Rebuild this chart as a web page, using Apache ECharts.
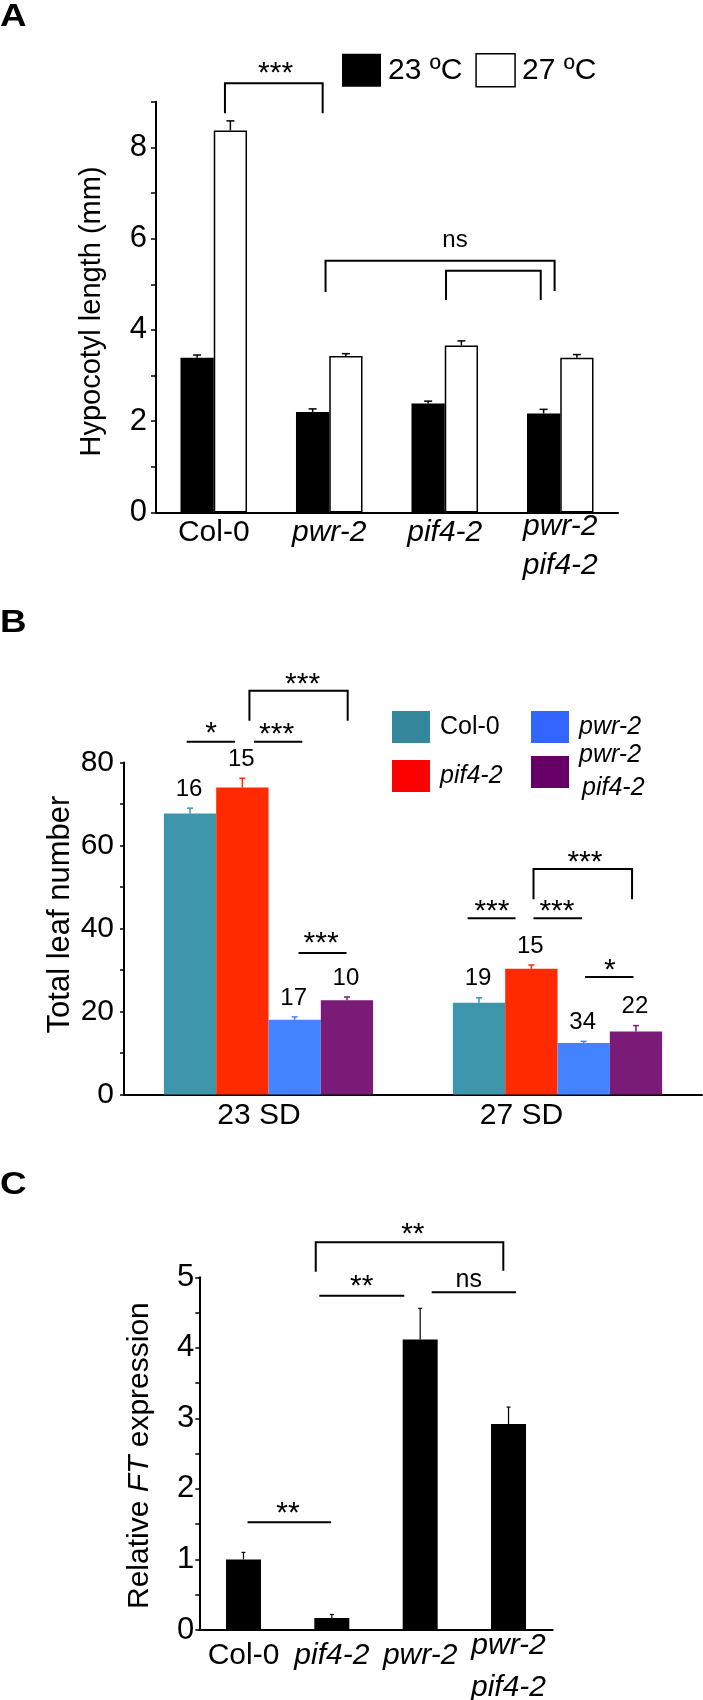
<!DOCTYPE html>
<html>
<head>
<meta charset="utf-8">
<script src="https://cdn.jsdelivr.net/npm/echarts@6/dist/echarts.min.js"></script>
<style>
html,body{margin:0;padding:0;background:#fff;}
#main{width:703px;height:1700px;}
</style>
</head>
<body>
<div id="main"></div>
<script>
// ---------- Panel A data ----------
const catA = ['Col-0', 'pwr-2', 'pif4-2', 'pwr-2\npif4-2'];
const a23 = [3.39, 2.20, 2.39, 2.17];
const a23Err = [0.06, 0.07, 0.05, 0.09];
const a27 = [8.37, 3.43, 3.66, 3.39];
const a27Err = [0.21, 0.05, 0.10, 0.07];
// significance: [x1, x2, yTop, yLeftEnd, yRightEnd, label, labelX, labelY]
const sigA = [
  [0.097, 0.943, 9.404, 8.747, 8.747, '***', 0.535, 9.76],
  [0.968, 2.951, 5.517, 4.831, 4.853, 'ns', 2.089, 5.905],
  [2.011, 2.831, 5.298, 4.656, 4.656, '', 0, 0]
];

// ---------- Panel B data ----------
const catB = ['23 SD', '27 SD'];
const bCol = [67.7, 22.1];
const bColErr = [1.3, 1.2];
const bPif = [74.0, 30.3];
const bPifErr = [2.2, 0.9];
const bPwr = [18.0, 12.4];
const bPwrErr = [0.7, 0.4];
const bDbl = [22.7, 15.2];
const bDblErr = [0.8, 1.4];
const nCol = [16, 19];
const nPif = [15, 15];
const nPwr = [17, 34];
const nDbl = [10, 22];
const sigB = [
  [-0.283, -0.116, 85.01, null, null, '*', -0.199, 88.63],
  [-0.050, 0.117, 85.01, null, null, '***', 0.028, 88.24],
  [-0.066, 0.274, 97.3, 90.07, 90.07, '***', 0.118, 100.29],
  [0.104, 0.270, 34.12, null, null, '***', 0.182, 38.0],
  [0.689, 0.855, 42.48, null, null, '***', 0.773, 45.76],
  [0.917, 1.085, 42.48, null, null, '***', 0.998, 45.76],
  [0.917, 1.258, 54.36, 47.04, 47.04, '***', 1.095, 57.54],
  [1.095, 1.263, 28.31, null, null, '*', 1.181, 31.54]
];

// ---------- Panel C data ----------
const catC = ['Col-0', 'pif4-2', 'pwr-2', 'pwr-2\npif4-2'];
const cVal = [1.00, 0.17, 4.12, 2.92];
const cErr = [0.10, 0.05, 0.44, 0.24];
const sigC = [
  [0.046, 0.991, 1.528, null, null, '**', 0.504, 1.749],
  [0.858, 1.820, 4.739, null, null, '**', 1.338, 4.957],
  [2.130, 3.085, 4.787, null, null, 'ns', 2.549, 4.933],
  [0.818, 2.941, 5.496, 5.079, 5.094, '**', 1.917, 5.699]
];

const FONT = 'Liberation Sans, Arial, Helvetica, sans-serif';
const ital = new Set(['pwr-2', 'pif4-2']);

function labelFmt(v) {
  const parts = v.split('\n');
  if (parts.length === 1) return '{' + (ital.has(v) ? 'si' : 'sn') + '|' + v + '}';
  return parts.map((s, k) => '{' + (k === 0 ? 't1' : 't2') + '|' + s + '}').join('\n');
}

function sigSeries(xi, yi, sig, opt) {
  return {
    type: 'custom', xAxisIndex: xi, yAxisIndex: yi, silent: true, z: 20, clip: false,
    data: sig.map(() => [0, 0]),
    renderItem: function (params, api) {
      const s = sig[params.dataIndex];
      const c0 = api.coord([0, 0]);
      const bw = api.size([1, 0])[0];
      const X = v => c0[0] + v * bw;
      const Y = v => api.coord([0, v])[1];
      const ch = [];
      const pts = [];
      if (s[3] != null) pts.push([X(s[0]), Y(s[3])]);
      pts.push([X(s[0]), Y(s[2])]);
      pts.push([X(s[1]), Y(s[2])]);
      if (s[4] != null) pts.push([X(s[1]), Y(s[4])]);
      ch.push({ type: 'polyline', shape: { points: pts }, style: { stroke: '#000', fill: null, lineWidth: opt.lw } });
      if (s[5]) {
        const isStar = s[5].indexOf('*') >= 0;
        const fs = isStar ? opt.starSize : opt.nsSize;
        const dy = isStar ? 0.23 * fs : -0.09 * fs;
        ch.push({
          type: 'text',
          style: { text: s[5], x: X(s[6]), y: Y(s[7]) + dy, align: 'center', verticalAlign: 'middle',
                   fontSize: fs, fontFamily: FONT, fill: '#000' }
        });
      }
      return { type: 'group', children: ch };
    }
  };
}

function errSeries(xi, yi, vals, errs, k, nBars, barFrac, color, lw, cap, nLabels) {
  return {
    type: 'custom', xAxisIndex: xi, yAxisIndex: yi, silent: true, z: 15, clip: false,
    data: vals.map((v, i) => [i, v, errs[i]]),
    encode: { x: 0, y: 1 },
    renderItem: function (params, api) {
      const i = api.value(0), v = api.value(1), e = api.value(2);
      const band = api.size([1, 0])[0];
      const bw = band * barFrac;
      const p = api.coord([i, v]);
      const t = api.coord([i, v + e]);
      const x = p[0] - nBars * bw / 2 + bw * (k + 0.5);
      const ch = [
        { type: 'line', shape: { x1: x, y1: p[1], x2: x, y2: t[1] }, style: { stroke: color, lineWidth: lw } },
        { type: 'line', shape: { x1: x - cap, y1: t[1], x2: x + cap, y2: t[1] }, style: { stroke: color, lineWidth: lw } }
      ];
      if (nLabels) {
        ch.push({ type: 'text', style: { text: String(nLabels[params.dataIndex]), x: x - 1, y: t[1] - 19,
          align: 'center', verticalAlign: 'middle', fontSize: 24, fontFamily: FONT, fill: '#000' } });
      }
      return { type: 'group', children: ch };
    }
  };
}

const axisLineStyle = { color: '#000', width: 2 };
const chart = echarts.init(document.getElementById('main'), null, { renderer: 'canvas' });
const teal = '#3D96AB', red = '#FF2A00', blue = '#4383FF', purple = '#7A1B77';

function catLabel(fs, margin, lhS, lh1, lh2) {
  const st = (italic, lh) => italic
    ? { fontSize: fs, fontFamily: FONT, fontStyle: 'italic', color: '#000', lineHeight: lh }
    : { fontSize: fs, fontFamily: FONT, color: '#000', lineHeight: lh };
  return { interval: 0, margin: margin, color: '#000', fontSize: fs, fontFamily: FONT, formatter: labelFmt,
    rich: { sn: st(false, lhS), si: st(true, lhS), t1: st(true, lh1), t2: st(true, lh2) } };
}

const option = {
  backgroundColor: '#fff',
  animation: false,
  textStyle: { fontFamily: FONT },
  grid: [
    { left: 156, top: 101.7, width: 462, height: 410.8, outerBoundsMode: 'none', containLabel: false },
    { left: 124, top: 762.5, width: 578, height: 332, outerBoundsMode: 'none', containLabel: false },
    { left: 199.3, top: 1277.3, width: 353.4, height: 352.7, outerBoundsMode: 'none', containLabel: false }
  ],
  xAxis: [
    { type: 'category', gridIndex: 0, data: catA,
      axisLine: { lineStyle: axisLineStyle }, axisTick: { length: 5, lineStyle: { color: '#000', width: 1.5 } },
      axisLabel: catLabel(30, 5, 31, 19, 59) },
    { type: 'category', gridIndex: 1, data: catB,
      axisLine: { lineStyle: axisLineStyle }, axisTick: { length: 5, lineStyle: { color: '#000', width: 1.5 } },
      axisLabel: { interval: 0, margin: 6, color: '#000', fontSize: 30, fontFamily: FONT,
        formatter: v => v === '23 SD' ? '{a|' + v + '}' : '{b|' + v + '}',
        rich: { a: { fontSize: 30, fontFamily: FONT, color: '#000', padding: [0, 19, 0, 0] },
                b: { fontSize: 30, fontFamily: FONT, color: '#000', padding: [0, 72, 0, 0] } } } },
    { type: 'category', gridIndex: 2, data: catC,
      axisLine: { lineStyle: axisLineStyle }, axisTick: { length: 5, lineStyle: { color: '#000', width: 1.5 } },
      axisLabel: catLabel(30, 7, 38, 18, 66) }
  ],
  yAxis: [
    { type: 'value', gridIndex: 0, min: 0, max: 9, interval: 1, splitLine: { show: false },
      axisLine: { show: true, lineStyle: axisLineStyle },
      axisTick: { show: true, length: 5, lineStyle: { color: '#000', width: 1.5 } },
      axisLabel: { margin: 9, color: '#000', fontSize: 31, fontFamily: FONT, formatter: v => (v % 2 === 0 ? String(v) : '') } },
    { type: 'value', gridIndex: 1, min: 0, max: 80, interval: 10, splitLine: { show: false },
      axisLine: { show: true, lineStyle: axisLineStyle },
      axisTick: { show: true, length: 4, lineStyle: { color: '#000', width: 1.5 } },
      axisLabel: { margin: 10, color: '#000', fontSize: 30, fontFamily: FONT, formatter: v => (v % 20 === 0 ? String(v) : '') } },
    { type: 'value', gridIndex: 2, min: 0, max: 5, interval: 0.5, splitLine: { show: false },
      axisLine: { show: true, lineStyle: axisLineStyle },
      axisTick: { show: true, length: 4, lineStyle: { color: '#000', width: 1.5 } },
      axisLabel: { margin: 5, color: '#000', fontSize: 31, fontFamily: FONT, formatter: v => (Math.abs(v - Math.round(v)) < 1e-9 ? String(Math.round(v)) : '') } }
  ],
  legend: [
    { left: 337, top: 48, itemWidth: 39, itemHeight: 33, itemGap: 13, icon: 'rect', selectedMode: false,
      data: [{ name: '23 ºC', itemStyle: { color: '#000' } },
             { name: '27 ºC', itemStyle: { color: '#fff', borderColor: '#000', borderWidth: 1.5 } }],
      textStyle: { fontSize: 30, color: '#000', fontFamily: FONT, padding: [0, 0, 0, 2] } },
    { orient: 'vertical', left: 387, top: 706, itemWidth: 38, itemHeight: 32, itemGap: 17, icon: 'rect', selectedMode: false,
      data: [{ name: 'Col-0', itemStyle: { color: '#35879C' } }, { name: 'pif4-2', itemStyle: { color: '#FF0000' } }],
      formatter: n => n === 'Col-0' ? '{n|Col-0}' : '{i|' + n + '}',
      textStyle: { color: '#000', fontFamily: FONT, fontSize: 25, padding: [0, 0, 0, 5],
        rich: { n: { fontSize: 25, fontFamily: FONT, color: '#000' }, i: { fontSize: 25, fontFamily: FONT, fontStyle: 'italic', color: '#000' } } } },
    { orient: 'vertical', left: 526, top: 706, itemWidth: 38, itemHeight: 32, itemGap: 0, icon: 'rect', selectedMode: false,
      data: [{ name: 'pwr-2', itemStyle: { color: '#3366FF' } }, { name: 'pwr-2 pif4-2', itemStyle: { color: '#660066' } }],
      formatter: n => n === 'pwr-2' ? '{i|pwr-2}' : '{i|pwr-2}\n{j|pif4-2}',
      textStyle: { color: '#000', fontFamily: FONT, fontSize: 25, padding: [0, 0, 0, 5],
        rich: { i: { fontSize: 25, fontFamily: FONT, fontStyle: 'italic', color: '#000', lineHeight: 33 },
                j: { fontSize: 25, fontFamily: FONT, fontStyle: 'italic', color: '#000', lineHeight: 33, padding: [0, 0, 0, 3] } } } }
  ],
  graphic: [
    { type: 'text', left: 0, top: 1, scaleX: 1.15, style: { text: 'A', fontSize: 32, fontWeight: 'bold', fontFamily: FONT, fill: '#000' } },
    { type: 'text', left: 0, top: 607, scaleX: 1.15, style: { text: 'B', fontSize: 32, fontWeight: 'bold', fontFamily: FONT, fill: '#000' } },
    { type: 'text', left: 0, top: 1169, scaleX: 1.15, style: { text: 'C', fontSize: 32, fontWeight: 'bold', fontFamily: FONT, fill: '#000' } },
    { type: 'text', x: 92, y: 311.5, rotation: Math.PI / 2,
      style: { text: 'Hypocotyl length (mm)', align: 'center', verticalAlign: 'middle', fontSize: 29, fontFamily: FONT, fill: '#000' } },
    { type: 'text', x: 60, y: 914.5, rotation: Math.PI / 2,
      style: { text: 'Total leaf number', align: 'center', verticalAlign: 'middle', fontSize: 31, fontFamily: FONT, fill: '#000' } },
    { type: 'text', x: 140, y: 1455.6, rotation: Math.PI / 2,
      style: { text: '{n|Relative }{i|FT}{n| expression}', align: 'center', verticalAlign: 'middle', fontFamily: FONT, fill: '#000',
        rich: { n: { fontSize: 30, fontFamily: FONT, fill: '#000' }, i: { fontSize: 30, fontFamily: FONT, fontStyle: 'italic', fill: '#000' } } } }
  ],
  series: [
    { name: '23 ºC', type: 'bar', xAxisIndex: 0, yAxisIndex: 0, data: a23, barWidth: '28.8%', barGap: '0%',
      itemStyle: { color: '#000' } },
    { name: '27 ºC', type: 'bar', xAxisIndex: 0, yAxisIndex: 0, data: a27, barWidth: '28.8%', barGap: '0%',
      itemStyle: { color: '#fff', borderColor: '#000', borderWidth: 1.5 } },
    errSeries(0, 0, a23, a23Err, 0, 2, 0.288, '#000', 1.5, 4, null),
    errSeries(0, 0, a27, a27Err, 1, 2, 0.288, '#000', 1.5, 4, null),
    sigSeries(0, 0, sigA, { lw: 2, starSize: 30, nsSize: 24 }),
    { name: 'Col-0', type: 'bar', xAxisIndex: 1, yAxisIndex: 1, data: bCol, barWidth: '18.1%', barGap: '0%', itemStyle: { color: teal } },
    { name: 'pif4-2', type: 'bar', xAxisIndex: 1, yAxisIndex: 1, data: bPif, barWidth: '18.1%', barGap: '0%', itemStyle: { color: red } },
    { name: 'pwr-2', type: 'bar', xAxisIndex: 1, yAxisIndex: 1, data: bPwr, barWidth: '18.1%', barGap: '0%', itemStyle: { color: blue } },
    { name: 'pwr-2 pif4-2', type: 'bar', xAxisIndex: 1, yAxisIndex: 1, data: bDbl, barWidth: '18.1%', barGap: '0%', itemStyle: { color: purple } },
    errSeries(1, 1, bCol, bColErr, 0, 4, 0.181, teal, 1.5, 3, nCol),
    errSeries(1, 1, bPif, bPifErr, 1, 4, 0.181, red, 1.5, 3, nPif),
    errSeries(1, 1, bPwr, bPwrErr, 2, 4, 0.181, blue, 1.5, 3, nPwr),
    errSeries(1, 1, bDbl, bDblErr, 3, 4, 0.181, purple, 1.5, 3, nDbl),
    sigSeries(1, 1, sigB, { lw: 2, starSize: 30, nsSize: 24 }),
    { name: 'FT', type: 'bar', xAxisIndex: 2, yAxisIndex: 2, data: cVal, barWidth: '39.6%', itemStyle: { color: '#000' } },
    errSeries(2, 2, cVal, cErr, 0, 1, 0.396, '#000', 1.2, 2, null),
    sigSeries(2, 2, sigC, { lw: 2, starSize: 30, nsSize: 25 })
  ]
};
chart.setOption(option);
</script>
</body>
</html>
